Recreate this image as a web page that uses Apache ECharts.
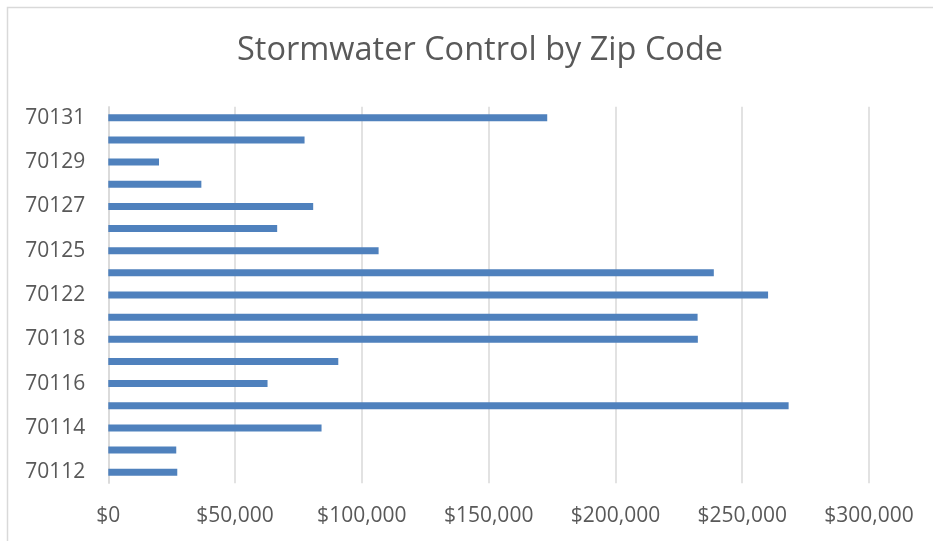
<!DOCTYPE html>
<html>
<head>
<meta charset="utf-8">
<script src="https://cdn.jsdelivr.net/npm/echarts@6/dist/echarts.min.js"></script>
<style>
html,body{margin:0;padding:0;background:#fff;}
#chart{width:933px;height:541px;}
</style>
</head>
<body>
<div id="chart"></div>
<script>
var titleText = 'Stormwater Control by Zip Code';
var zipCodes = ['70112','70113','70114','70115','70116','70117','70118','70119','70122','70124','70125','70126','70127','70128','70129','70130','70131'];
var amounts = [27200, 26800, 84100, 268300, 62800, 90700, 232500, 232400, 260200, 238800, 106600, 66600, 80800, 36700, 20000, 77400, 173100];
var xTicks = { min: 0, max: 300000, interval: 50000 };

var chart = echarts.init(document.getElementById('chart'), null, {renderer: 'canvas'});
var fontFam = '"Open Sans", "Liberation Sans", sans-serif';
chart.setOption({
  animation: false,
  backgroundColor: '#ffffff',
  graphic: [{
    type: 'rect',
    shape: {x: 7.5, y: 7.5, width: 1000, height: 1000},
    style: {fill: 'none', stroke: '#d9d9d9', lineWidth: 1.5},
    silent: true
  }],
  title: {
    text: titleText,
    left: 232,
    top: 29,
    textStyle: {fontFamily: fontFam, fontSize: 32.5, fontWeight: 'normal', color: '#595959'}
  },
  grid: {left: 108.3, right: 64, top: 106.7, bottom: 57.7, containLabel: false},
  xAxis: {
    type: 'value',
    min: xTicks.min, max: xTicks.max, interval: xTicks.interval,
    axisLine: {show: false},
    axisTick: {show: false},
    splitLine: {show: true, lineStyle: {color: '#d9d9d9', width: 1.5}},
    axisLabel: {
      fontFamily: fontFam, fontSize: 21, color: '#595959', margin: 22,
      formatter: function (v) { return '$' + v.toLocaleString('en-US'); }
    }
  },
  yAxis: {
    type: 'category',
    data: zipCodes,
    axisLine: {show: true, lineStyle: {color: '#d9d9d9', width: 1.5}},
    axisTick: {show: false},
    splitLine: {show: false},
    axisLabel: {fontFamily: fontFam, fontSize: 21, color: '#595959', margin: 23, interval: 1}
  },
  series: [{
    type: 'bar',
    data: amounts,
    barWidth: 7,
    itemStyle: {color: '#4F81BD'}
  }]
});
</script>
</body>
</html>
